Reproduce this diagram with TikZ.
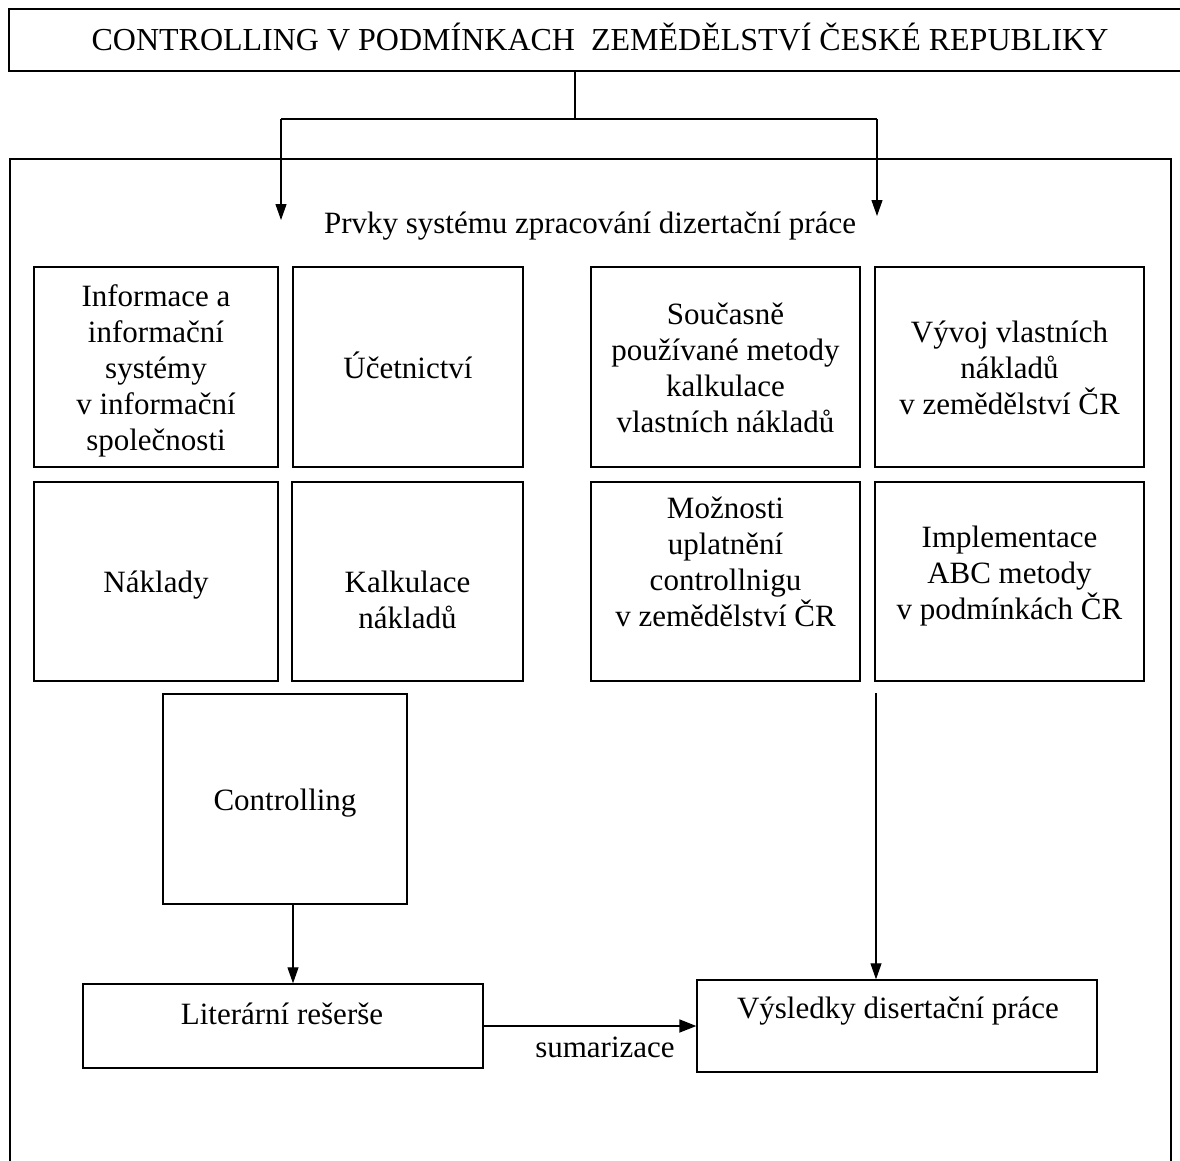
\documentclass[tikz,border=0pt]{standalone}
\usepackage{fontspec}
\setmainfont{Liberation Serif}
\usetikzlibrary{arrows.meta}
% line strut: 36pt tall, baseline 29.2pt below its top
\newcommand{\ls}{\rule[-6.8pt]{0pt}{36pt}}
\begin{document}
\begin{tikzpicture}[x=1pt,y=-1pt,
  every node/.style={font=\fontsize{31}{36}\selectfont, align=center, inner sep=0pt},
  box/.style={draw, line width=1.4pt},
  wire/.style={line width=1.1pt},
  arr/.style={line width=1.1pt, -{Triangle[length=16pt,width=11pt]}}]
\useasboundingbox (0,0) rectangle (1180,1160);
\clip (0,0) rectangle (1180,1160);

% title bar and surrounding frame
\node[box, minimum width=1181pt, minimum height=62pt] (title) at (599.5,40) {};
\node[font=\fontsize{32}{36}\selectfont] (titlet) at (600,38.8)
  {\ls CONTROLLING V PODMÍNKACH\ \ ZEMĚDĚLSTVÍ ČESKÉ REPUBLIKY};
\node[box, minimum width=1161pt, minimum height=1016pt] (frame) at (590.5,667) {};
\node (prvky) at (590,221.8) {\ls Prvky systému zpracování dizertační práce};

% left block of topics
\node[box, minimum width=244pt, minimum height=200pt] (info) at (156,367)
  {\ls Informace a\\\ls informační\\\ls systémy\\\ls v informační\\\ls společnosti};
\node[box, minimum width=230pt, minimum height=200pt] (ucet) at (408,367)
  {\ls Účetnictví};
\node[box, minimum width=244pt, minimum height=199pt] (nakl) at (156,581.5)
  {\ls Náklady};
\node[box, minimum width=231pt, minimum height=199pt] (kalk) at (407.5,581.5) {};
\node (kalkt) at (407.5,598.8) {\ls Kalkulace\\\ls nákladů};
\node[box, minimum width=244pt, minimum height=210pt] (ctrl) at (285,799)
  {\ls Controlling};

% right block of topics
\node[box, minimum width=269pt, minimum height=200pt] (soucas) at (725.5,367)
  {\ls Současně\\\ls používané metody\\\ls kalkulace\\\ls vlastních nákladů};
\node[box, minimum width=269pt, minimum height=200pt] (vyvoj) at (1009.5,367)
  {\ls Vývoj vlastních\\\ls nákladů\\\ls v zemědělství ČR};
\node[box, minimum width=269pt, minimum height=199pt] (moz) at (725.5,581.5) {};
\node (mozt) at (725.5,560.8)
  {\ls Možnosti\\\ls uplatnění\\\ls controllnigu\\\ls v zemědělství ČR};
\node[box, minimum width=269pt, minimum height=199pt] (impl) at (1009.5,581.5) {};
\node (implt) at (1009.5,571.8)
  {\ls Implementace\\\ls ABC metody\\\ls v podmínkách ČR};

% outcomes
\node[box, minimum width=400pt, minimum height=84pt] (lit) at (283,1026) {};
\node (litt) at (282,1012.8) {\ls Literární rešerše};
\node[box, minimum width=400pt, minimum height=92pt] (vys) at (897,1026) {};
\node (vyst) at (898,1006.8) {\ls Výsledky disertační práce};
\node (sum) at (605,1045.8) {\ls sumarizace};

% connectors from the title
\coordinate (split) at (575,119);
\coordinate (jl) at (281,119);
\coordinate (jr) at (877,119);
\coordinate (tl) at (281,220);
\coordinate (tr) at (877,216);
\draw[wire] (title.south -| split) -- (split);
\draw[wire] (jl) -- (jr);
\draw[arr] (jl) -- (tl);
\draw[arr] (jr) -- (tr);

% connectors to the outcomes
\coordinate (cl) at (293,0);
\draw[arr] (ctrl.south -| cl) -- (lit.north -| cl);
\coordinate (hs) at (876,693);
\draw[arr] (hs) -- (hs |- vys.north);
\draw[line width=1.8pt, -{Triangle[length=17pt,width=13pt]}] (lit.east) -- (vys.west);
\end{tikzpicture}
\end{document}
